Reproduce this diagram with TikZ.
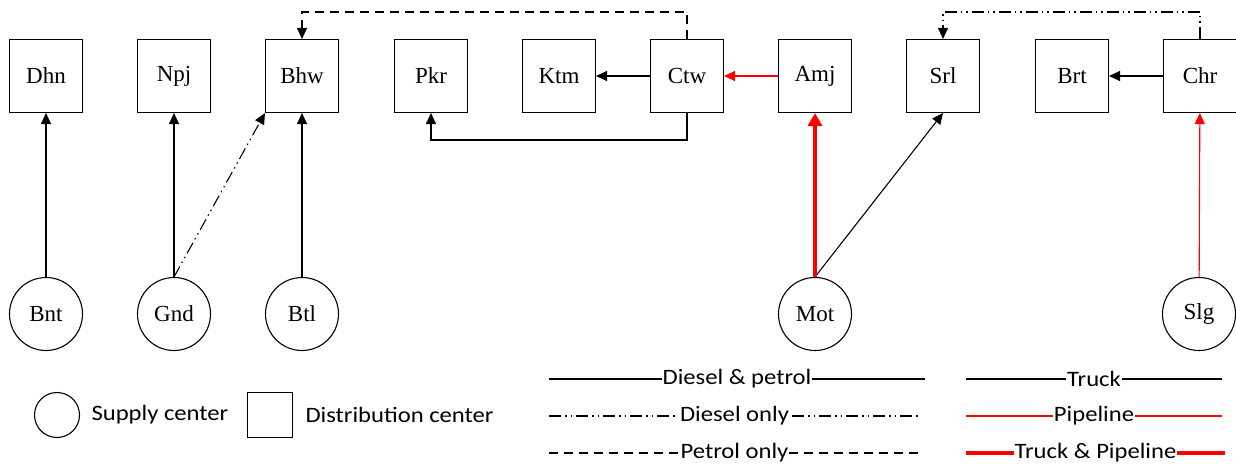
\documentclass[tikz,border=0pt]{standalone}
\usepackage{fontspec}
\setmainfont{Liberation Serif}
\newfontfamily\nodefont{Liberation Serif}
\newfontfamily\legendfont[FakeStretch=1.12]{Carlito}
\newcommand{\nlab}[1]{{\nodefont\fontsize{23}{25}\selectfont #1}}
\usetikzlibrary{arrows.meta}
\begin{document}
\begin{tikzpicture}[x=1pt,y=-1pt,line width=1.1pt,
  dc/.style={draw,minimum size=73pt,inner sep=0pt},
  sc/.style={draw,circle,minimum size=73pt,inner sep=0pt},
  arr/.style={-{Triangle[length=11pt,width=10pt]}},
  dieselonly/.style={dash pattern=on 12pt off 4pt on 1.5pt off 4pt on 1.5pt off 4pt},
  petrolonly/.style={dash pattern=on 9pt off 6pt},
  pipe/.style={red},
  thickpipe/.style={red,line width=4.5pt},
  lgtext/.style={fill=white,text=black,inner xsep=1pt,inner ysep=1pt,font=\legendfont\fontsize{22}{24}\selectfont},
  lgsym/.style={draw,inner sep=0pt}
]
\useasboundingbox (0,0) rectangle (1236,465);
% distribution centers
\node[dc] (Dhn) at (46,76) {\nlab{Dhn}};
\node[dc] (Npj) at (174,76) {\nlab{Npj}};
\node[dc] (Bhw) at (302,76) {\nlab{Bhw}};
\node[dc] (Pkr) at (431,76) {\nlab{Pkr}};
\node[dc] (Ktm) at (559,76) {\nlab{Ktm}};
\node[dc] (Ctw) at (687,76) {\nlab{Ctw}};
\node[dc] (Amj) at (815,76) {\nlab{Amj}};
\node[dc] (Srl) at (943,76) {\nlab{Srl}};
\node[dc] (Brt) at (1072,76) {\nlab{Brt}};
\node[dc] (Chr) at (1200,76) {\nlab{Chr}};
% supply centers
\node[sc] (Bnt) at (46,314) {\nlab{Bnt}};
\node[sc] (Gnd) at (174,314) {\nlab{Gnd}};
\node[sc] (Btl) at (302,314) {\nlab{Btl}};
\node[sc] (Mot) at (815,314) {\nlab{Mot}};
\node[sc] (Slg) at (1199,314) {\nlab{Slg}};
% connectors
\draw[arr] (Bnt) -- (Dhn);
\draw[arr] (Gnd) -- (Npj);
\draw[arr,dieselonly] (Gnd.north) -- (Bhw.south west);
\draw[arr] (Btl) -- (Bhw);
\draw[arr] (Ctw) -- (Ktm);
\draw[arr,pipe] (Amj) -- (Ctw);
\draw[arr,petrolonly] (Ctw.north) |- (302,12) -- (Bhw.north);
\draw[arr] (Ctw.south) |- (431,140) -- (Pkr.south);
\draw[arr] (Mot.north) -- (Srl.south);
\draw[thickpipe,-{Triangle[length=13pt,width=14pt]}] (Mot.north) -- (Amj.south);
\draw[arr] (Chr) -- (Brt);
\draw[arr,dieselonly] (Chr.north) |- (943,12) -- (Srl.north);
\draw[arr,pipe] (Slg) -- (Chr);
% legend symbols
\node[lgsym,circle,minimum size=45pt] (lgc) at (57,415) {};
\node[anchor=west,inner sep=0pt,font=\legendfont\fontsize{22}{24}\selectfont] (lgct) at (91,415) {Supply center};
\node[lgsym,minimum size=45pt] (lgs) at (270,415) {};
\node[anchor=west,inner sep=0pt,font=\legendfont\fontsize{22}{24}\selectfont] (lgst) at (305,415) {Distribution center};
% legend lines
\coordinate (a1) at (549,379); \coordinate (b1) at (925,379);
\coordinate (a2) at (549,416); \coordinate (b2) at (920,416);
\coordinate (a3) at (549,453); \coordinate (b3) at (920,453);
\coordinate (c1) at (966,379); \coordinate (d1) at (1222,379);
\coordinate (c2) at (966,416); \coordinate (d2) at (1222,416);
\coordinate (c3) at (966,453); \coordinate (d3) at (1225,453);
\draw (a1) -- node[lgtext] (t1) {Diesel \& petrol} (b1);
\draw[dieselonly] (a2) -- node[lgtext] (t2) {Diesel only} (b2);
\draw[petrolonly] (a3) -- node[lgtext] (t3) {Petrol only} (b3);
\draw (c1) -- node[lgtext] (t4) {Truck} (d1);
\draw[pipe] (c2) -- node[lgtext] (t5) {Pipeline} (d2);
\draw[thickpipe] (c3) -- node[lgtext] (t6) {Truck \& Pipeline} (d3);
\end{tikzpicture}
\end{document}
